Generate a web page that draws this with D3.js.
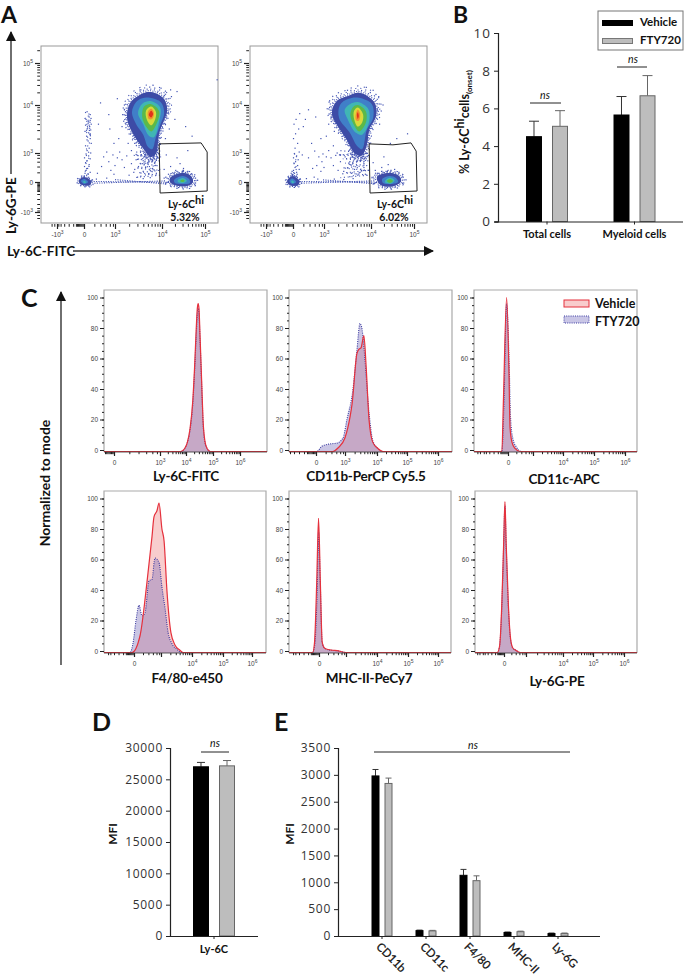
<!DOCTYPE html>
<html>
<head>
<meta charset="utf-8">
<script src="https://d3js.org/d3.v7.min.js"></script>
<style>
  html, body { margin: 0; padding: 0; background: #fff; }
  svg { display: block; }
  text { font-family: Lato, "Open Sans", sans-serif; fill: #111; }
  .label { font-weight: 700; }
  .num { font-family: "Open Sans", sans-serif; fill: #333; }
  .flowtick text { font-family: "Liberation Sans", sans-serif; fill: #444; font-size: 6.5px; }
  .flowtick path, .flowtick line { stroke: #222; }
</style>
</head>
<body>
<script>
// ---- panel A: density levels, outer to inner, x and y in decades (3 = 10^3, 0 = 0)
var levelColors = ["#3d4ba6", "#3f7fc8", "#3fb6b4", "#5cb948", "#d9d93a", "#ef9230", "#e0301e"];

var mainRings1 = [
  [[3.74,4.31],[4.02,4.17],[4.12,3.9],[4.02,3.63],[3.94,3.42],[3.91,3.21],[3.87,2.95],[3.76,2.6],[3.6,3.1],[3.43,3.33],[3.28,3.63],[3.26,3.83],[3.34,4.07],[3.53,4.24]],
  [[3.74,4.17],[3.98,4.06],[4.05,3.83],[3.96,3.58],[3.87,3.33],[3.79,3.08],[3.7,3.13],[3.6,3.38],[3.45,3.6],[3.36,3.85],[3.45,4.07],[3.58,4.16]],
  [[3.77,4.09],[3.96,3.95],[3.94,3.65],[3.83,3.33],[3.72,3.36],[3.6,3.6],[3.49,3.83],[3.58,4.03]],
  [[3.77,4.02],[3.94,3.87],[3.87,3.58],[3.77,3.45],[3.66,3.55],[3.58,3.75],[3.62,3.97]],
  [[3.77,3.97],[3.87,3.86],[3.85,3.69],[3.77,3.58],[3.68,3.69],[3.66,3.88]],
  [[3.77,3.92],[3.83,3.83],[3.79,3.71],[3.72,3.71],[3.7,3.86]],
  [[3.77,3.88],[3.81,3.81],[3.77,3.74],[3.72,3.79]]
];
var gateRings1 = [
  [[4.19,.41],[4.47,.93],[4.67,.62],[4.72,0],[4.58,-.4],[4.3,-.3],[4.19,0]],
  [[4.28,.2],[4.47,.62],[4.63,.31],[4.65,-.1],[4.49,-.2],[4.3,-.1]],
  [[4.37,.2],[4.49,.41],[4.58,.1],[4.49,-.1],[4.37,0]],
  [[4.42,.1],[4.49,.26],[4.53,.1],[4.47,0]]
];
var leftRings1 = [
  [[-.55,.2],[0,.5],[.68,.1],[.58,-.3],[-.1,-.3],[-.5,-.1]],
  [[-.33,.1],[0,.3],[.39,0],[0,-.2]],
  [[-.1,.05],[.05,.12],[.2,-.05],[0,-.1]]
];
var mainRings2 = [
  [[3.74,4.29],[4.07,4.07],[4.12,3.79],[3.96,3.48],[3.91,3.17],[3.8,2.75],[3.66,2.95],[3.49,3.27],[3.32,3.52],[3.17,3.83],[3.28,4.1],[3.49,4.2]],
  [[3.74,4.17],[4.02,4.02],[4.05,3.73],[3.91,3.48],[3.81,3.08],[3.7,3.15],[3.55,3.42],[3.32,3.73],[3.34,4],[3.51,4.14]],
  [[3.72,4.07],[3.94,3.92],[3.96,3.65],[3.81,3.38],[3.68,3.42],[3.51,3.69],[3.44,3.9],[3.55,4.02]],
  [[3.72,4],[3.89,3.87],[3.89,3.63],[3.75,3.45],[3.64,3.58],[3.56,3.79],[3.62,3.96]],
  [[3.72,3.95],[3.83,3.81],[3.81,3.63],[3.72,3.55],[3.64,3.71],[3.64,3.88]],
  [[3.72,3.9],[3.77,3.81],[3.74,3.67],[3.68,3.69],[3.68,3.83]],
  [[3.72,3.85],[3.74,3.77],[3.72,3.71],[3.7,3.79]]
];
var gateRings2 = [
  [[4.14,.52],[4.44,.93],[4.65,.62],[4.7,.1],[4.53,-.4],[4.23,-.3]],
  [[4.26,.31],[4.44,.62],[4.58,.41],[4.63,0],[4.47,-.2],[4.28,-.1]],
  [[4.33,.15],[4.44,.45],[4.55,.2],[4.47,-.15],[4.33,-.05]],
  [[4.37,.1],[4.44,.31],[4.51,.1],[4.44,-.1]]
];
var leftRings2 = [
  [[-.6,.2],[-.1,.6],[.6,.15],[.5,-.3],[-.2,-.35],[-.6,-.1]],
  [[-.4,.1],[-.1,.35],[.3,0],[-.1,-.2]],
  [[-.2,.05],[-.05,.15],[.1,-.05],[-.1,-.1]]
];
var gatePoly1 = [[3.94,3.19],[4.91,3.21],[5.05,3.02],[5.05,-.9],[3.96,-1.1]];
var gatePoly2 = [[3.96,3.19],[4.51,3.17],[4.93,3.21],[5.05,3.04],[5.07,-.9],[3.98,-1.1]];
var gateLabels = ["5.32%", "6.02%"];

// dense runs of events, stippled along these paths
var stipple1 = [
  [[.7,.06],[4.2,-.04]],
  [[1,-.12],[4.1,.12]],
  [[3,.25],[4.1,-.2]],
  [[.1,3.85],[.6,3.8],[.1,3.72],[.65,3.65],[.15,3.58],[.6,3.52],[.1,3.45],[.6,3.38],[.2,3.3],[.55,3.2],[.2,3.1],[.5,3]],
  [[.2,2.8],[.5,2.4],[.1,2],[.5,1.6],[.05,1.2],[.45,.8]],
  [[3.45,3.02],[3.95,2.95],[3.4,2.75],[3.98,2.6],[3.45,2.35],[3.95,2.2],[3.5,1.9],[3.92,1.7],[3.45,1.45],[3.95,1.2],[3.5,.95],[3.95,.7],[3.4,.45]],
  [[3.6,3],[3.85,2.4],[3.6,1.8],[3.85,1.2],[3.6,.6]],
  [[3.55,2.85],[3.9,2.8],[3.6,2.5],[3.9,2.35],[3.62,2.1]]
];
var stipple2 = [
  [[.6,.06],[4.25,-.04]],
  [[.8,-.12],[4.1,.12]],
  [[2.9,.22],[4.1,-.18]],
  [[.1,3],[.4,2.5],[.1,2],[.4,1.4],[0,.9],[.2,.5]],
  [[3.35,3.05],[3.95,2.95],[3.3,2.8],[3.98,2.6],[3.4,2.4],[3.95,2.2],[3.45,1.95],[3.92,1.7],[3.4,1.45],[3.95,1.2],[3.45,.95],[3.95,.7],[3.35,.45]],
  [[3.55,3],[3.85,2.4],[3.55,1.8],[3.85,1.2],[3.6,.6]],
  [[3.5,2.9],[3.88,2.85],[3.55,2.55],[3.88,2.4],[3.6,2.15]]
];

// single events
var events1 = [[.3,3.86],[.6,3.8],[.5,3.75],[.68,3.72],[.2,3.7],[.6,3.68],[.45,3.65],[.4,3.62],[.7,3.6],[.15,3.58],[.55,3.55],[.35,3.52],[.3,3.5],[.65,3.48],[.1,3.45],[.45,3.42],[.6,3.4],[.25,3.35],[.6,3.3],[.4,3.25],[.7,3.2],[.15,3.15],[.5,3.1],[.3,3.05],[.65,3],[.2,2.9],[.45,2.7],[.05,2.5],[.6,2.4],[.3,2.2],[.15,2],[.5,1.8],[.05,1.6],[.35,1.4],[.2,1.2],[.6,1],[.1,.9],[.4,.8],[.25,.7],[.5,3.58],[.28,3.66],[.52,3.47],[.62,3.36],
[1.2,.3],[2.2,.4],[3.72,.8],[3.6,1.1],[3.8,1.4],[3.5,1.6],[3.7,1.9],[3.85,2],[3.6,2.2],[3.78,2.3],[3.9,2.5],[3.66,2.55],[3.55,2.7],[3.82,2.7],[3.95,2.8],[3.45,2.85],[3.7,2.95],[3.35,3.05],[3.9,3.05],[3.28,3.2],[3.55,.6],[3.4,1],[3.88,.9],[3.95,1.3],[3.3,.7],[3.2,1.5],[3.35,1.9],[3.15,2.3],[3.45,2.3],[3.25,2.7],[3.1,3.02],[3.05,2.5],[3,1.7],[2.6,1.2],[2.9,.8],[2.4,2.1],[2.8,2.8],[2.2,3.02],[3.08,3.3],[3.15,3.55],[3.2,3.9],[2.9,3.2],[2.5,3.5],[3.05,4.15],[2.4,3.8],[1.6,4.05],[1.4,3.6],[1.9,2.6],[1.3,.9],[1.7,1.6],[3.6,.35],[3.75,.45],[3.48,.5],[3.65,1.5],[3.75,1.2],[3.85,1.7],[3.58,1.9],[3.42,1.3],[3.62,2.6],[3.75,2.78],
[4.05,1.3],[4.2,1.6],[4.32,1.2],[4.42,1.9],[4.5,1.4],[4.6,1.1],[4.35,2.5],[4.6,3.05],[4.1,2.8],[4.7,3.35],[4.55,3.55],[4.3,3.7],[4.22,4.2],[4.35,4.32],[4.15,3.85],[4.7,.8],[4.78,.4],[4.15,.8],[4.3,1],[4.5,1.15],[4.25,.95],[4.05,.4],[4.08,-.2],[4.78,-.1],[5.28,4.6],[4.17,3.5],[4.08,3.3],[4.2,4.36],[3.98,4.4],[3.55,4.36],[3.2,4],[3.22,3.62],[3.42,3.2]];

var events2 = [[.65,3.82],[.3,3.7],[.1,3.6],[.55,3.5],[.25,3.4],[.05,3.3],[.45,3.2],[.2,3.1],[.6,3.02],[.15,2.9],[.35,2.7],[.05,2.5],[.5,2.3],[.25,2.1],[.1,1.9],[.45,1.7],[.2,1.5],[.6,1.3],[.05,1.2],[.35,1],[.15,.9],[.4,.8],[-.1,1.1],[-.2,.9],[0,.8],[.3,.55],[.1,.6],[-.1,.7],
[3.22,.3],[3.42,.25],[3.62,.35],[1.3,.35],[2.4,.3],[2.05,.5],[3.72,.7],[3.6,.95],[3.8,1.2],[3.5,1.45],[3.7,1.7],[3.85,1.9],[3.55,2.1],[3.78,2.2],[3.9,2.4],[3.66,2.4],[3.45,2.6],[3.82,2.6],[3.95,2.75],[3.35,2.8],[3.6,2.85],[3.28,3],[3.9,3],[3.2,3.15],[3.55,.55],[3.4,.85],[3.88,.8],[3.95,1.2],[3.3,1.2],[3.2,1.7],[3.35,2.1],[3.15,2.5],[3.25,2.75],[3.1,3.05],[3.05,2.6],[3,1.5],[2.7,1.1],[2.8,2.1],[2.3,1.7],[2.5,2.6],[2.9,2.9],[2.1,3.04],[3.05,3.35],[3.1,3.6],[3.12,3.95],[2.7,3.3],[2.2,3.75],[1.5,3.9],[1.2,3.7],[1.8,3.2],[1,3.55],[.9,2.8],[1.5,2.5],[1.9,1.4],[3.65,1.3],[3.75,.95],[3.85,1.5],[3.58,1.75],[3.42,1.1],[3.62,2.55],[3.75,2.72],
[4.1,1.2],[4.25,1.5],[4.35,1.1],[4.4,1.8],[4.55,1.3],[4.05,2],[4.3,2.6],[4.45,3.2],[4.6,3.3],[4.85,3.4],[4.2,3.6],[4.15,3.9],[4.28,4],[4.65,1],[4.75,.5],[4.15,.9],[4.3,.95],[4.05,.5],[4.05,-.2],[4.76,-.1],[4.18,4.2],[4.05,4.35],[3.9,4.42],[3.5,4.35],[3.12,4.1],[3.15,3.75],[3.22,3.45]];

// ---- panel B
var groupsB = ["Total cells", "Myeloid cells"];
var seriesNames = ["Vehicle", "FTY720"];
var vehicleB = [4.5, 5.65];
var ftyB = [5.05, 6.67];
var vehicleErrB = [5.32, 6.63];
var ftyErrB = [5.88, 7.74];

// ---- panel C: histograms, [decade, % of mode]
var histNames = ["Ly-6C-FITC", "CD11b-PerCP Cy5.5", "CD11c-APC", "F4/80-e450", "MHC-II-PeCy7", "Ly-6G-PE"];
var vehHist = [
  [[3.8,0],[3.95,1],[4.05,5],[4.15,14],[4.25,32],[4.32,55],[4.38,80],[4.42,93],[4.45,96],[4.48,93],[4.52,75],[4.58,45],[4.63,20],[4.7,6],[4.78,1],[4.9,0]],
  [[1.7,0],[2.3,1.5],[3,8],[3.16,22],[3.22,30],[3.37,63],[3.43,66],[3.5,67],[3.59,75],[3.66,55],[3.75,20],[3.87,5],[4.03,1],[4.2,0]],
  [[-.72,0],[-.55,30],[-.16,100],[.12,50],[.24,15],[.48,5],[.84,1],[1.45,0]],
  [[-.22,0],[.67,10],[1.44,45],[2,75],[2.22,88],[2.55,92],[2.78,97],[3.03,80],[3.1,72],[3.19,40],[3.32,12],[3.45,4],[3.61,.5],[3.71,0]],
  [[-.7,0],[-.5,5],[-.25,45],[-.05,87],[.15,45],[.35,6],[.6,2],[1,1],[1.5,.5],[2,.2],[3,0]],
  [[-.9,0],[-.6,3],[-.3,30],[-.05,70],[.13,98],[.3,70],[.6,30],[.9,8],[1.2,2],[1.6,.5],[2.2,0]]
];
var ftyHist = [
  [[3.8,0],[3.95,1],[4.05,5],[4.15,13],[4.25,30],[4.32,52],[4.38,76],[4.42,90],[4.45,93],[4.48,90],[4.52,72],[4.58,43],[4.63,19],[4.7,5],[4.78,1],[4.9,0]],
  [[.1,0],[.6,2.5],[1.45,4],[2.17,4.5],[2.8,8],[3.06,20],[3.25,40],[3.37,65],[3.47,83],[3.56,75],[3.62,60],[3.75,25],[3.87,6],[4.03,1],[4.2,0]],
  [[-.72,0],[-.5,25],[-.16,96],[.15,55],[.3,22],[.6,7],[1,2],[1.6,0]],
  [[-.44,0],[-.11,5],[.22,20],[.56,30],[.89,23],[1.22,25],[1.67,46],[2,47],[2.33,61],[2.78,58],[3.03,42],[3.13,28],[3.23,12],[3.35,5],[3.52,1],[3.68,0]],
  [[-.7,0],[-.45,5],[-.2,40],[-.05,78],[.15,42],[.35,6],[.6,2],[1,.8],[1.5,.4],[2,.2],[3,0]],
  [[-.9,0],[-.6,3],[-.3,28],[-.05,68],[.13,95],[.3,68],[.6,28],[.9,7],[1.2,2],[1.6,.5],[2.2,0]]
];

// ---- panel D
var groupsD = ["Ly-6C"];
var vehicleD = [27000];
var ftyD = [27150];
var vehicleErrD = [27700];
var ftyErrD = [28000];

// ---- panel E
var groupsE = ["CD11b", "CD11c", "F4/80", "MHC-II", "Ly-6G"];
var vehicleE = [2980, 100, 1130, 65, 45];
var ftyE = [2840, 95, 1030, 80, 45];
var vehicleErrE = [3100, 110, 1240, 75, 55];
var ftyErrE = [2940, 105, 1120, 90, 55];

var width = 685, height = 976;
var svg = d3.select("body").append("svg").attr("width", width).attr("height", height);

var soft = svg.append("defs").append("filter").attr("id", "soft")
  .attr("x", "-5%").attr("y", "-5%").attr("width", "110%").attr("height", "110%");
soft.append("feGaussianBlur").attr("stdDeviation", 0.35);

var marker = svg.select("defs").append("marker").attr("id", "head")
  .attr("viewBox", "0 0 10 10").attr("refX", 9).attr("refY", 5)
  .attr("markerWidth", 11).attr("markerHeight", 10).attr("markerUnits", "userSpaceOnUse").attr("orient", "auto");
marker.append("path").attr("d", "M0,0L10,5L0,10Z").attr("fill", "#111");

function panelLetter(t, x, y, size) {
  svg.append("text").attr("x", x).attr("y", y).attr("class", "label").style("font-size", (size || 25) + "px").text(t);
}

function arrow(x1, y1, x2, y2) {
  svg.append("line").attr("x1", x1).attr("y1", y1).attr("x2", x2).attr("y2", y2)
    .attr("stroke", "#333").attr("stroke-width", 1.4).attr("marker-end", "url(#head)");
}

function minorTicks(decades) {
  var out = [];
  decades.forEach(function(d) {
    d3.range(2, 10).forEach(function(k) { out.push(d + Math.log10(k)); });
  });
  return out;
}
var clump = d3.range(-.9, 0.01, .12);
var lowTicks = [1, 1.6, 2.1, 2.5, 2.8, -1.2, -1.7, -2.2, -2.6, -2.85, -3.3, -3.6];

function tickLabel(sel, labelOf) {
  sel.selectAll("text").each(function(d) {
    var t = d3.select(this), l = labelOf(d);
    t.text(null);
    if (l.exp) {
      t.append("tspan").text(l.base);
      t.append("tspan").attr("dy", "-0.45em").style("font-size", "5px").text(l.exp);
    } else {
      t.text(l.base);
    }
  });
}
function decadeLabel(d) {
  if (d === 0) return { base: "0" };
  return { base: (d < 0 ? "-10" : "10"), exp: String(Math.abs(d)) };
}

function flowAxis(g, axisFn, scale, majors, minors, tick, hidden, offset) {
  var minorAxis = g.append("g").attr("class", "flowtick").call(axisFn(scale).tickValues(minors).tickSize(tick * 0.55).tickFormat(""));
  minorAxis.select("path").remove();
  var majorAxis = g.append("g").attr("class", "flowtick").call(axisFn(scale).tickValues(majors).tickSize(tick).tickPadding(offset).tickFormat(String));
  majorAxis.select("path").remove();
  majorAxis.selectAll("line").attr("stroke-width", 1.2);
  tickLabel(majorAxis, decadeLabel);
  if (hidden) majorAxis.selectAll("text").filter(function(d) { return hidden.indexOf(d) >= 0; }).remove();
}

// ---- panel A
function dotPlot(dx, mainRings, gateRings, leftRings, events, stipple, gate, pct) {
  var x = d3.scaleLinear().domain([-4.78, -3, 0, 3, 4, 5, 5.3]).range([41 + dx, 57 + dx, 84 + dx, 115 + dx, 162 + dx, 205 + dx, 218 + dx]);
  var y = d3.scaleLinear().domain([-4.1, -3, 0, 3, 4, 5, 5.4]).range([223, 212, 182, 153, 105, 63, 46]);
  var plain = d3.line().x(function(d) { return x(d[0]); }).y(function(d) { return y(d[1]); });
  var ring = d3.line().x(function(d) { return x(d[0]); }).y(function(d) { return y(d[1]); })
    .curve(d3.curveCatmullRomClosed.alpha(0.5));

  var g = svg.append("g");
  g.append("rect").attr("x", 41 + dx).attr("y", 46).attr("width", 177).attr("height", 177)
    .attr("fill", "none").attr("stroke", "#999").attr("stroke-width", 1);

  var marks = g.append("g").attr("filter", "url(#soft)");
  marks.selectAll(".st").data(stipple).enter().append("path")
    .attr("d", plain)
    .attr("fill", "none").attr("stroke", "#4354b4").attr("stroke-width", 1.1)
    .attr("stroke-dasharray", function(d, i) { return i < 3 ? "1.1,1.3" : "1.1,2.7"; });
  marks.selectAll(".ev").data(events).enter().append("rect")
    .attr("x", function(d) { return x(d[0]) - .6; })
    .attr("y", function(d) { return y(d[1]) - .6; })
    .attr("width", 1.2).attr("height", 1.2)
    .attr("fill", "#4354b4");

  // fuzzy rim: the outer level drawn again as widening rings of dots
  [[mainRings, [1.04, 1.09, 1.15, 1.22]], [gateRings, [1.12, 1.25, 1.4]], [leftRings, [1.15, 1.35]]].forEach(function(set, ri) {
    var rings = set[0];
    var probe = marks.append("path").attr("d", ring(rings[0])).attr("fill", levelColors[0]);
    var b = probe.node().getBBox(), cx = b.x + b.width / 2, cy = b.y + b.height / 2;
    set[1].forEach(function(s, j) {
      marks.append("path").attr("d", ring(rings[0]))
        .attr("transform", "translate(" + cx + "," + cy + ") scale(" + s + ") translate(" + (-cx) + "," + (-cy) + ")")
        .attr("fill", "none").attr("stroke", "#4354b4").attr("stroke-width", 1.1 / s)
        .attr("stroke-dasharray", [1, 1.3 + j * 1.1].join(","));
    });
    marks.selectAll(".r" + ri).data(rings).enter().append("path")
      .attr("d", ring)
      .attr("fill", function(d, i) { return levelColors[i]; });
  });

  g.append("path").datum(gate)
    .attr("d", plain.curve(d3.curveLinearClosed))
    .attr("fill", "none").attr("stroke", "#222").attr("stroke-width", 1);

  flowAxis(g.append("g").attr("transform", "translate(0,224)"), d3.axisBottom, x,
    [-3, 0, 3, 4, 5], lowTicks.concat(clump).concat(minorTicks([3, 4])).filter(function(v) { return v > -4.7; }), 5, null, 3);
  flowAxis(g.append("g").attr("transform", "translate(" + (40 + dx) + ",0)"), d3.axisLeft, y,
    [-3, 0, 3, 4, 5], clump.concat(lowTicks).concat(minorTicks([3, 4, 5])).filter(function(v) { return v > -4 && v < 5.35; }), 5, null, 2);

  var lab = g.append("text").attr("x", 186 + dx).attr("y", 208).attr("text-anchor", "middle").style("font-size", "10.5px").style("font-weight", 700);
  lab.append("tspan").text("Ly-6C");
  lab.append("tspan").attr("dy", "-4").style("font-size", "11px").text("hi");
  g.append("text").attr("x", 185 + dx).attr("y", 221).attr("text-anchor", "middle").style("font-size", "10.5px").style("font-weight", 700).text(pct);
}
dotPlot(0, mainRings1, gateRings1, leftRings1, events1, stipple1, gatePoly1, gateLabels[0]);
dotPlot(209, mainRings2, gateRings2, leftRings2, events2, stipple2, gatePoly2, gateLabels[1]);

panelLetter("A", 1, 23, 23);
arrow(11, 174, 11, 32);
svg.append("text").attr("class", "label").attr("transform", "translate(16,234) rotate(-90)").style("font-size", "13.5px").text("Ly-6G-PE");
svg.append("text").attr("class", "label").attr("x", 7).attr("y", 256).style("font-size", "13.5px").text("Ly-6C-FITC");
arrow(73, 251, 433, 251);

// ---- bars, panels B, D, E
function barChart(o) {
  var g = svg.append("g");
  var y = d3.scaleLinear().domain(o.yDomain).range([o.y0, o.y1]);
  var x = d3.scaleBand().domain(o.groups).range(o.xRange);
  var sub = d3.scaleBand().domain(seriesNames).range([-o.half, o.half]).paddingInner(.385);

  var rows = [];
  o.groups.forEach(function(c, i) {
    rows.push({ c: c, s: "Vehicle", v: o.vehicle[i], e: o.vehicleErr[i] });
    rows.push({ c: c, s: "FTY720", v: o.fty[i], e: o.ftyErr[i] });
  });
  function cx(d) { return x(d.c) + x.bandwidth() / 2 + sub(d.s) + sub.bandwidth() / 2; }

  g.selectAll(".whisker").data(rows).enter().append("path")
    .attr("d", function(d) {
      var px = cx(d), cap = o.cap;
      return "M" + px + "," + y(d.v) + "V" + y(d.e) + "M" + (px - cap) + "," + y(d.e) + "H" + (px + cap);
    })
    .attr("fill", "none").attr("stroke", function(d) { return d.s === "Vehicle" ? "#333" : "#666"; }).attr("stroke-width", 1);

  g.selectAll(".bar").data(rows).enter().append("rect")
    .attr("x", function(d) { return x(d.c) + x.bandwidth() / 2 + sub(d.s) + .5; })
    .attr("width", sub.bandwidth() - 1)
    .attr("y", function(d) { return y(d.v); })
    .attr("height", function(d) { return y(0) - y(d.v); })
    .attr("fill", function(d) { return d.s === "Vehicle" ? "#000" : "#bdbdbd"; })
    .attr("stroke", function(d) { return d.s === "Vehicle" ? "#000" : "#666"; })
    .attr("stroke-width", 1);

  var yAxis = g.append("g").attr("transform", "translate(" + o.xAxisAt + ",0)")
    .call(d3.axisLeft(y).tickValues(o.yTicks).tickSize(4).tickPadding(3).tickFormat(d3.format("d")));
  yAxis.select("path").attr("stroke", "#222").attr("stroke-width", 1.2);
  yAxis.selectAll("line").attr("stroke", "#222");
  yAxis.selectAll("text").attr("class", "num").style("font-size", o.tickFont).style("letter-spacing", o.tickSpace);

  var xAxis = g.append("g").attr("transform", "translate(0," + o.y0 + ")")
    .call(d3.axisBottom(x).tickSize(3).tickPadding(6).tickSizeOuter(0));
  xAxis.select("path").attr("d", "M" + (o.xAxisAt - 3) + ",0.5H" + o.xEnd).attr("stroke", "#222").attr("stroke-width", 1.2);
  xAxis.selectAll("line").attr("stroke", "#222");
  xAxis.selectAll("text").style("font-size", "11px").style("font-weight", 700);
  return xAxis;
}

function nsBar(x1, x2, y, tx, ty) {
  svg.append("line").attr("x1", x1).attr("x2", x2).attr("y1", y).attr("y2", y).attr("stroke", "#222").attr("stroke-width", 1);
  svg.append("text").attr("x", tx).attr("y", ty).attr("text-anchor", "middle")
    .style("font-style", "italic").style("font-size", "10.5px").text("ns");
}

barChart({ groups: groupsB, vehicle: vehicleB, fty: ftyB, vehicleErr: vehicleErrB, ftyErr: ftyErrB,
  yDomain: [0, 10], yTicks: [0, 2, 4, 6, 8, 10], y0: 221.5, y1: 33, xRange: [503.25, 678.25], half: 21, cap: 5,
  xAxisAt: 498, xEnd: 683, tickFont: "13.5px", tickSpace: "1px" });
nsBar(530, 561, 103, 545, 99);
nsBar(617, 647, 67, 633, 63);
panelLetter("B", 453, 23, 23);
var yb = svg.append("text").attr("class", "label").attr("transform", "translate(469,174) rotate(-90)").style("font-size", "12.5px");
yb.append("tspan").text("% Ly-6C");
yb.append("tspan").attr("dy", "-5").text("hi");
yb.append("tspan").attr("dy", "5").text("cells");
yb.append("tspan").attr("dy", "3").style("font-size", "8px").text("(onset)");

var legB = svg.append("g");
legB.append("rect").attr("x", 598).attr("y", 11).attr("width", 85).attr("height", 39).attr("fill", "#fff").attr("stroke", "#777");
legB.selectAll(".sw").data(seriesNames).enter().append("rect")
  .attr("x", 602.5).attr("width", 30).attr("height", 5)
  .attr("y", function(d, i) { return 20.5 + i * 18; })
  .attr("fill", function(d, i) { return i ? "#bdbdbd" : "#000"; })
  .attr("stroke", function(d, i) { return i ? "#777" : "#000"; });
legB.selectAll(".tx").data(seriesNames).enter().append("text")
  .attr("x", 640).attr("y", function(d, i) { return 26 + i * 18; })
  .attr("class", "label").style("font-size", "11.5px").text(function(d) { return d; });

barChart({ groups: groupsD, vehicle: vehicleD, fty: ftyD, vehicleErr: vehicleErrD, ftyErr: ftyErrD,
  yDomain: [0, 30000], yTicks: d3.range(0, 30001, 5000), y0: 936, y1: 748, xRange: [174, 254], half: 21, cap: 4,
  xAxisAt: 170, xEnd: 258, tickFont: "12px", tickSpace: "0.7px" });
nsBar(201, 229, 752, 215, 747);
panelLetter("D", 92, 731);
svg.append("text").attr("class", "label").attr("transform", "translate(117,834) rotate(-90)").attr("text-anchor", "middle").style("font-size", "12px").text("MFI");

var xE = barChart({ groups: groupsE, vehicle: vehicleE, fty: ftyE, vehicleErr: vehicleErrE, ftyErr: ftyErrE,
  yDomain: [0, 3500], yTicks: d3.range(0, 3501, 500), y0: 936, y1: 748, xRange: [360, 580], half: 10.5, cap: 3,
  xAxisAt: 338, xEnd: 600, tickFont: "12px", tickSpace: "0.7px" });
xE.selectAll("text").attr("text-anchor", "start").attr("dy", "0.3em").attr("y", 0)
  .attr("transform", "translate(-4,9) rotate(45)").style("font-weight", 400).style("font-size", "11.5px")
  .attr("stroke", "#111").attr("stroke-width", 0.25);
nsBar(374, 570, 752, 473, 749);
panelLetter("E", 274, 731);
svg.append("text").attr("class", "label").attr("transform", "translate(294,834) rotate(-90)").attr("text-anchor", "middle").style("font-size", "12px").text("MFI");

// ---- panel C
function histogram(i, box, ticks, hidden, labelX, labelY) {
  var top = box.top, base = top + 162, y0 = top + 160, y100 = top + 7.5;
  var x = d3.scaleLinear().domain(box.dom).range(ticks);
  var y = d3.scaleLinear().domain([0, 100]).range([y0, y100]);
  var g = svg.append("g");
  g.append("path").attr("d", "M" + box.left + "," + base + "V" + top + "H" + box.right + "V" + base)
    .attr("fill", "none").attr("stroke", "#aaa").attr("stroke-width", 1.2);

  function whole(rows) {
    return [[box.dom[0], 0]].concat(rows).concat([[box.dom[box.dom.length - 1], 0]]);
  }
  var area = d3.area().x(function(d) { return x(d[0]); }).y0(base).y1(function(d) { return d[1] > 0 ? y(d[1]) : base - .5; }).curve(d3.curveMonotoneX);
  var line = d3.line().x(function(d) { return x(d[0]); }).y(function(d) { return d[1] > 0 ? y(d[1]) : base - .5; }).curve(d3.curveMonotoneX);

  var marks = g.append("g").attr("filter", "url(#soft)");
  marks.append("path").datum(whole(vehHist[i])).attr("d", area).attr("fill", "#f5b8b8").attr("fill-opacity", .7);
  marks.append("path").datum(whole(ftyHist[i])).attr("d", area).attr("fill", "#7a70bc").attr("fill-opacity", .4);
  marks.append("path").datum(whole(ftyHist[i])).attr("d", line).attr("fill", "none").attr("stroke", "#3b3ba0").attr("stroke-width", 1.1).attr("stroke-dasharray", "1,1.2");
  marks.append("path").datum(whole(vehHist[i])).attr("d", line).attr("fill", "none").attr("stroke", "#e5303c").attr("stroke-width", 1.2);

  var ya = g.append("g").attr("class", "flowtick").attr("transform", "translate(" + box.left + ",0)");
  var ym = ya.append("g").call(d3.axisLeft(y).tickValues(d3.range(0, 101, 5)).tickSize(2).tickFormat(""));
  ym.select("path").remove();
  var yM = ya.append("g").call(d3.axisLeft(y).tickValues(d3.range(0, 101, 20)).tickSize(4).tickPadding(2));
  yM.select("path").remove();

  var xa = g.append("g").attr("transform", "translate(0," + base + ")");
  xa.append("line").attr("x1", box.left).attr("x2", box.right).attr("stroke", "#333").attr("stroke-width", .8);
  flowAxis(xa, d3.axisBottom, x, [0, 3, 4, 5, 6],
    lowTicks.concat(clump).concat(minorTicks([3, 4, 5])).filter(function(v) { return v > box.dom[0] && v < box.dom[box.dom.length - 1]; }), 4, hidden, 4);

  g.append("text").attr("x", labelX).attr("y", labelY).attr("text-anchor", "middle").attr("class", "label")
    .style("font-size", "13.5px").style("letter-spacing", "-0.2px").text(histNames[i]);
}
histogram(0, { left: 104, right: 267, top: 290, dom: [-1, 0, 3, 4, 5, 6, 7] }, [104, 114, 160, 186, 213, 240, 267], null, 186, 481);
histogram(1, { left: 289, right: 452, top: 290, dom: [-2.7, 0, 3, 4, 5, 6, 6.45] }, [289, 316, 345, 377, 407, 438, 452], null, 366, 481);
histogram(2, { left: 474, right: 637, top: 290, dom: [-4, 0, 3, 4, 5, 6, 6.39] }, [474, 508, 533, 563, 594, 625, 637], [3], 564, 484);
histogram(3, { left: 104, right: 266, top: 491, dom: [-3.3, 0, 3, 4, 5, 6, 6.5] }, [104, 134, 161, 192, 223, 252, 266], [3], 187, 683);
histogram(4, { left: 289, right: 451, top: 491, dom: [-3.3, 0, 3, 4, 5, 6, 6.45] }, [289, 319, 346, 377, 408, 438, 451], [3], 369, 683);
histogram(5, { left: 475, right: 637, top: 491, dom: [-3.9, 0, 3, 4, 5, 6, 6.4] }, [475, 504, 526, 563, 593, 624, 637], [3], 557, 686);

panelLetter("C", 21, 307);
arrow(61, 665, 61, 292);
svg.append("text").attr("class", "label").attr("transform", "translate(50,483) rotate(-90)").attr("text-anchor", "middle").style("font-size", "14px").text("Normalized to mode");

var legC = svg.append("g");
legC.append("rect").attr("x", 564).attr("y", 300).attr("width", 25).attr("height", 7).attr("fill", "#f8cccc").attr("stroke", "#e5303c").attr("stroke-width", 1);
legC.append("rect").attr("x", 564).attr("y", 316).attr("width", 25).attr("height", 7).attr("fill", "#c9c6e6").attr("stroke", "#3b3ba0").attr("stroke-width", 1).attr("stroke-dasharray", "1,1.2");
legC.selectAll("text").data(seriesNames).enter().append("text")
  .attr("x", 595).attr("y", function(d, i) { return 308 + i * 17.5; })
  .style("font-size", "12.5px").style("font-weight", 700).text(function(d) { return d; });
</script>
</body>
</html>
